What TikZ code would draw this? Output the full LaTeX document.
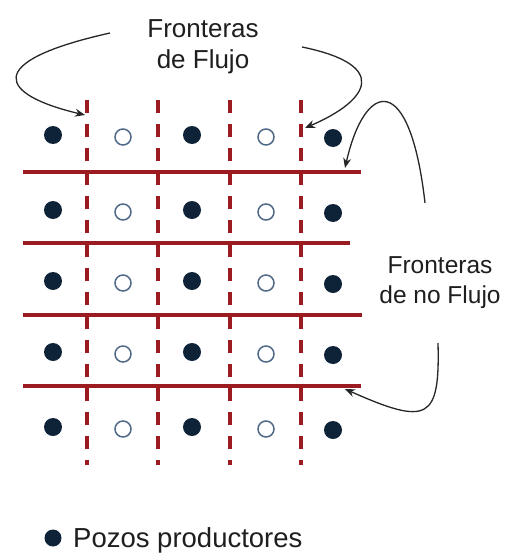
\documentclass[tikz,border=0pt]{standalone}
\usepackage{fontspec}
\setmainfont{Liberation Sans}
\usetikzlibrary{arrows.meta}
\definecolor{bred}{RGB}{155,27,32}
\definecolor{navy}{RGB}{14,34,56}
\definecolor{ring}{RGB}{80,105,135}
\definecolor{txt}{RGB}{30,30,30}
\begin{document}
\begin{tikzpicture}[x=1pt,y=-1pt,
  flow/.style={draw=bred,line width=3.4pt,dash pattern=on 13pt off 11pt},
  noflow/.style={draw=bred,line width=3.4pt},
  prod/.style={circle,fill=navy,inner sep=0pt,minimum size=18pt},
  inj/.style={circle,draw=ring,fill=white,line width=1.5pt,inner sep=0pt,minimum size=16pt},
  lbl/.style={text=txt,inner sep=0pt,anchor=base},
  pointer/.style={draw=black!85,line width=1.3pt,-{Stealth[length=10pt,width=8pt]}}]
\useasboundingbox (0,0) rectangle (517,554);
% flow boundaries (dashed)
\foreach \x/\n in {87/1,158/2,230/3,301/4}{
  \coordinate (vt\n) at (\x,100);
  \coordinate (vb\n) at (\x,465);
  \draw[flow] (vt\n) -- (vb\n);
}
% no-flow boundaries (solid)
\foreach \y/\e/\n in {172/361/1,243/350/2,315/362/3,386/361/4}{
  \coordinate (hl\n) at (23,\y);
  \coordinate (hr\n) at (\e,\y);
  \draw[noflow] (hl\n) -- (hr\n);
}
% wells
\foreach \y/\r in {135/1,210/2,281/3,352/4,427/5}{
  \node[prod] (pa\r) at (53,\y) {};
  \node[inj]  (ia\r) at (123,\y+2) {};
  \node[prod] (pb\r) at (192,\y) {};
  \node[inj]  (ib\r) at (266,\y+2) {};
  \node[prod] (pc\r) at (333,\y+3) {};
}
% labels
\node[lbl,font=\fontsize{26}{31}\selectfont] (ft1) at (203,37) {Fronteras};
\node[lbl,font=\fontsize{26}{31}\selectfont] (ft2) at (203,68) {de Flujo};
\node[lbl,font=\fontsize{24.5}{30}\selectfont] (fr1) at (440,273) {Fronteras};
\node[lbl,font=\fontsize{24.5}{30}\selectfont] (fr2) at (440,303) {de no Flujo};
\node[prod,minimum size=17pt] (leg) at (53,538) {};
\node[lbl,font=\fontsize{27.5}{32}\selectfont,anchor=base west] (legt) at (73,547) {Pozos productores};
% pointers
\coordinate (a1s) at (110,33);  \coordinate (a1e) at (85,115);
\coordinate (a2s) at (302,47);  \coordinate (a2e) at (305,128);
\coordinate (a3s) at (425,203); \coordinate (a3e) at (345,168);
\coordinate (a4s) at (438,343); \coordinate (a4e) at (345,389);
\draw[pointer] (a1s) .. controls (-20,62) and (0,95) .. (a1e);
\draw[pointer] (a2s) .. controls (390,65) and (370,100) .. (a2e);
\draw[pointer] (a3s) .. controls (410,70) and (365,80) .. (a3e);
\draw[pointer] (a4s) .. controls (440,420) and (428,426) .. (a4e);
\end{tikzpicture}
\end{document}
